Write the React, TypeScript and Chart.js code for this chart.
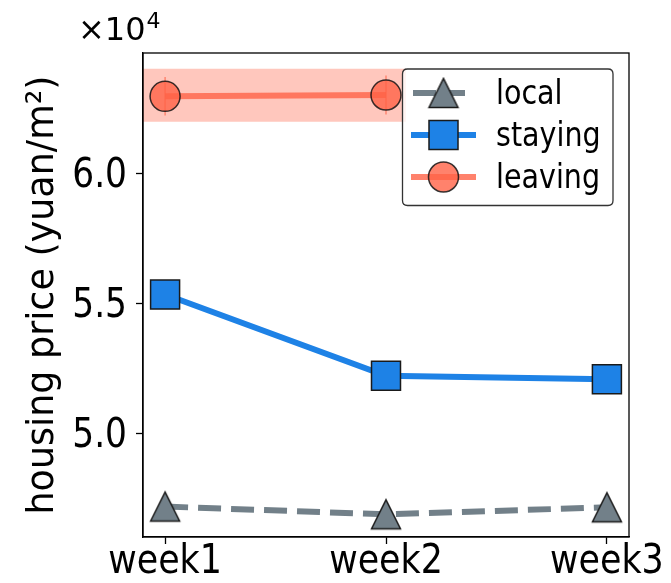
import React, { useEffect, useRef } from "react";
import { Chart, registerables } from "chart.js";

Chart.register(...registerables);

// ---- data ----
const weeks = ["week1", "week2", "week3"];
const weekPos = [0, 1, 2];
const localPrice = [4.718, 4.688, 4.715];
const stayingPrice = [5.533, 5.221, 5.207];
const leavingPrice = [6.295, 6.3];
const leavingErr = [0.074, 0.075];
const bandX = [-0.11, 1.09];
const bandLow = [6.197, 6.197];
const bandHigh = [6.401, 6.401];
const yTicks = [5.0, 5.5, 6.0];
const yRange = [4.601, 6.4615];
const xRange = [-0.1, 2.1];
const offsetBase = "×10";
const offsetExp = "4";
const yTitle = "housing price (yuan/m²)";
const legendOrder = ["local", "staying", "leaving"];

const FONT = "'DejaVu Sans', sans-serif";
const C_LOCAL = "#728089";
const C_STAY = "#1E82E6";
const C_LEAVE = "rgba(255,99,71,0.8)";
const EDGE = "#1a1a1a";

function makeTriangle(fill: string): HTMLCanvasElement {
  const c = document.createElement("canvas");
  c.width = 34;
  c.height = 34;
  const g = c.getContext("2d")!;
  g.beginPath();
  g.moveTo(2.5, 31.5);
  g.lineTo(17, 2.5);
  g.lineTo(31.5, 31.5);
  g.closePath();
  g.fillStyle = fill;
  g.fill();
  g.lineWidth = 1.5;
  g.lineJoin = "miter";
  g.strokeStyle = EDGE;
  g.stroke();
  return c;
}

function txt(
  ctx: CanvasRenderingContext2D,
  s: string,
  x: number,
  y: number,
  size: number,
  sx: number,
  align: CanvasTextAlign,
  rotate = false
) {
  ctx.save();
  ctx.translate(x, y);
  if (rotate) ctx.rotate(-Math.PI / 2);
  ctx.scale(sx, 1);
  ctx.font = `${size}px ${FONT}`;
  ctx.textAlign = align;
  ctx.textBaseline = "alphabetic";
  ctx.fillStyle = "#000";
  ctx.fillText(s, 0, 0);
  ctx.restore();
}

const decorPlugin = {
  id: "decor",
  afterDraw(chart: any) {
    const ctx = chart.ctx as CanvasRenderingContext2D;
    const a = chart.chartArea;
    const xs = chart.scales.x;
    const ys = chart.scales.y;
    ctx.save();
    // frame
    ctx.strokeStyle = "#000";
    ctx.lineWidth = 1.3;
    ctx.strokeRect(a.left, a.top, a.right - a.left, a.bottom - a.top);

    // tick labels
    weekPos.forEach((v, i) => {
      txt(ctx, weeks[i], xs.getPixelForValue(v), 573, 41, 0.85, "center");
    });
    yTicks.forEach((v) => {
      txt(ctx, v.toFixed(1), 127, ys.getPixelForValue(v) + 14, 40, 0.86, "right");
    });
    // axis title
    txt(ctx, yTitle, 53, (a.top + a.bottom) / 2, 38, 0.96, "center", true);

    // offset text
    txt(ctx, offsetBase, 78, 40, 32, 1, "left");
    ctx.font = `32px ${FONT}`;
    const w = ctx.measureText(offsetBase).width;
    txt(ctx, offsetExp, 78 + w + 1, 28, 22, 1, "left");

    // legend
    const bx = 402.5, by = 69, bw = 210.5, bh = 136.5, r = 5;
    ctx.beginPath();
    ctx.moveTo(bx + r, by);
    ctx.lineTo(bx + bw - r, by);
    ctx.quadraticCurveTo(bx + bw, by, bx + bw, by + r);
    ctx.lineTo(bx + bw, by + bh - r);
    ctx.quadraticCurveTo(bx + bw, by + bh, bx + bw - r, by + bh);
    ctx.lineTo(bx + r, by + bh);
    ctx.quadraticCurveTo(bx, by + bh, bx, by + bh - r);
    ctx.lineTo(bx, by + r);
    ctx.quadraticCurveTo(bx, by, bx + r, by);
    ctx.closePath();
    ctx.fillStyle = "rgba(255,255,255,0.8)";
    ctx.fill();
    ctx.strokeStyle = "#333";
    ctx.lineWidth = 1.3;
    ctx.stroke();

    const datasets = chart.data.datasets;
    legendOrder.forEach((name, i) => {
      const ds = datasets.find((d: any) => d.label === name);
      if (!ds) return;
      const cy = 93 + i * 42;
      const x0 = 411, x1 = 476, mx = 443.5;
      ctx.save();
      ctx.strokeStyle = ds.borderColor;
      ctx.lineWidth = ds.borderWidth;
      ctx.setLineDash(ds.borderDash || []);
      ctx.beginPath();
      ctx.moveTo(name === "local" ? 413 : x0, cy);
      ctx.lineTo(name === "local" ? 465 : x1, cy);
      ctx.stroke();
      ctx.setLineDash([]);
      ctx.restore();
      const ps = ds.pointStyle;
      if (typeof ps === "object") {
        ctx.drawImage(ps, mx - ps.width / 2, cy - ps.height / 2);
      } else if (ps === "rect") {
        const s = 29;
        ctx.fillStyle = ds.pointBackgroundColor;
        ctx.fillRect(mx - s / 2, cy - s / 2, s, s);
        ctx.strokeStyle = EDGE;
        ctx.lineWidth = 1.5;
        ctx.strokeRect(mx - s / 2, cy - s / 2, s, s);
      } else {
        ctx.beginPath();
        ctx.arc(mx, cy, 15, 0, Math.PI * 2);
        ctx.fillStyle = ds.pointBackgroundColor;
        ctx.fill();
        ctx.strokeStyle = ds.pointBorderColor;
        ctx.lineWidth = 1.5;
        ctx.stroke();
      }
      txt(ctx, name, 496, cy + 11, 34, 0.84, "left");
    });
    ctx.restore();
  },
};

export default function App() {
  const ref = useRef<HTMLCanvasElement | null>(null);
  useEffect(() => {
    if (!ref.current) return;
    const tri = makeTriangle(C_LOCAL);
    const errData: any[] = [];
    leavingPrice.forEach((y, i) => {
      if (i > 0) errData.push({ x: (weekPos[i - 1] + weekPos[i]) / 2, y: null });
      errData.push({ x: weekPos[i], y: y - leavingErr[i] });
      errData.push({ x: weekPos[i], y: y + leavingErr[i] });
    });
    const axisCommon = {
      grid: { drawOnChartArea: false, tickLength: 7, tickColor: "#000", tickWidth: 1.3 },
      border: { color: "#000", width: 1.3 },
    };
    const chart = new Chart(ref.current, {
      type: "line",
      data: {
        datasets: [
          {
            label: "leaving",
            data: leavingPrice.map((y, i) => ({ x: weekPos[i], y })),
            borderColor: C_LEAVE,
            backgroundColor: C_LEAVE,
            borderWidth: 6,
            pointStyle: "circle",
            pointRadius: 15,
            pointBackgroundColor: C_LEAVE,
            pointBorderColor: "rgba(20,20,20,0.85)",
            pointBorderWidth: 1.5,
            tension: 0,
          },
          {
            label: "leaving-err",
            data: errData,
            borderColor: C_LEAVE,
            borderWidth: 1.2,
            pointRadius: 0,
            spanGaps: false,
          },
          {
            label: "staying",
            data: stayingPrice.map((y, i) => ({ x: weekPos[i], y })),
            borderColor: C_STAY,
            backgroundColor: C_STAY,
            borderWidth: 6,
            pointStyle: "rect",
            pointRadius: 20.5,
            pointBackgroundColor: C_STAY,
            pointBorderColor: EDGE,
            pointBorderWidth: 1.5,
            tension: 0,
          },
          {
            label: "local",
            data: localPrice.map((y, i) => ({ x: weekPos[i], y })),
            borderColor: C_LOCAL,
            backgroundColor: C_LOCAL,
            borderWidth: 6,
            borderDash: [23, 10],
            pointStyle: tri,
            pointRadius: 15,
            pointBackgroundColor: C_LOCAL,
            tension: 0,
          },
          {
            label: "band-high",
            data: bandHigh.map((y, i) => ({ x: bandX[i], y })),
            borderWidth: 0,
            pointRadius: 0,
            fill: "+1",
            backgroundColor: "rgba(255,99,71,0.36)",
            borderColor: "rgba(0,0,0,0)",
          },
          {
            label: "band-low",
            data: bandLow.map((y, i) => ({ x: bandX[i], y })),
            borderWidth: 0,
            pointRadius: 0,
            borderColor: "rgba(0,0,0,0)",
          },
        ],
      },
      options: {
        animation: false,
        responsive: false,
        layout: { padding: { top: 53, right: 42, left: 0, bottom: 0 } },
        plugins: { legend: { display: false }, tooltip: { enabled: false } },
        scales: {
          x: {
            type: "linear",
            min: xRange[0],
            max: xRange[1],
            afterBuildTicks: (s: any) => {
              s.ticks = weekPos.map((v) => ({ value: v }));
            },
            afterFit: (s: any) => {
              s.height = 46;
            },
            ticks: { display: false },
            ...axisCommon,
          },
          y: {
            type: "linear",
            min: yRange[0],
            max: yRange[1],
            afterBuildTicks: (s: any) => {
              s.ticks = yTicks.map((v) => ({ value: v }));
            },
            afterFit: (s: any) => {
              s.width = 143;
            },
            ticks: { display: false },
            ...axisCommon,
          },
        },
      },
      plugins: [decorPlugin],
    });
    return () => chart.destroy();
  }, []);
  return (
    <div style={{ position: "fixed", left: 0, top: 0, width: 671, height: 583, background: "#fff" }}>
      <canvas ref={ref} width={671} height={583} style={{ width: 671, height: 583 }} />
    </div>
  );
}
